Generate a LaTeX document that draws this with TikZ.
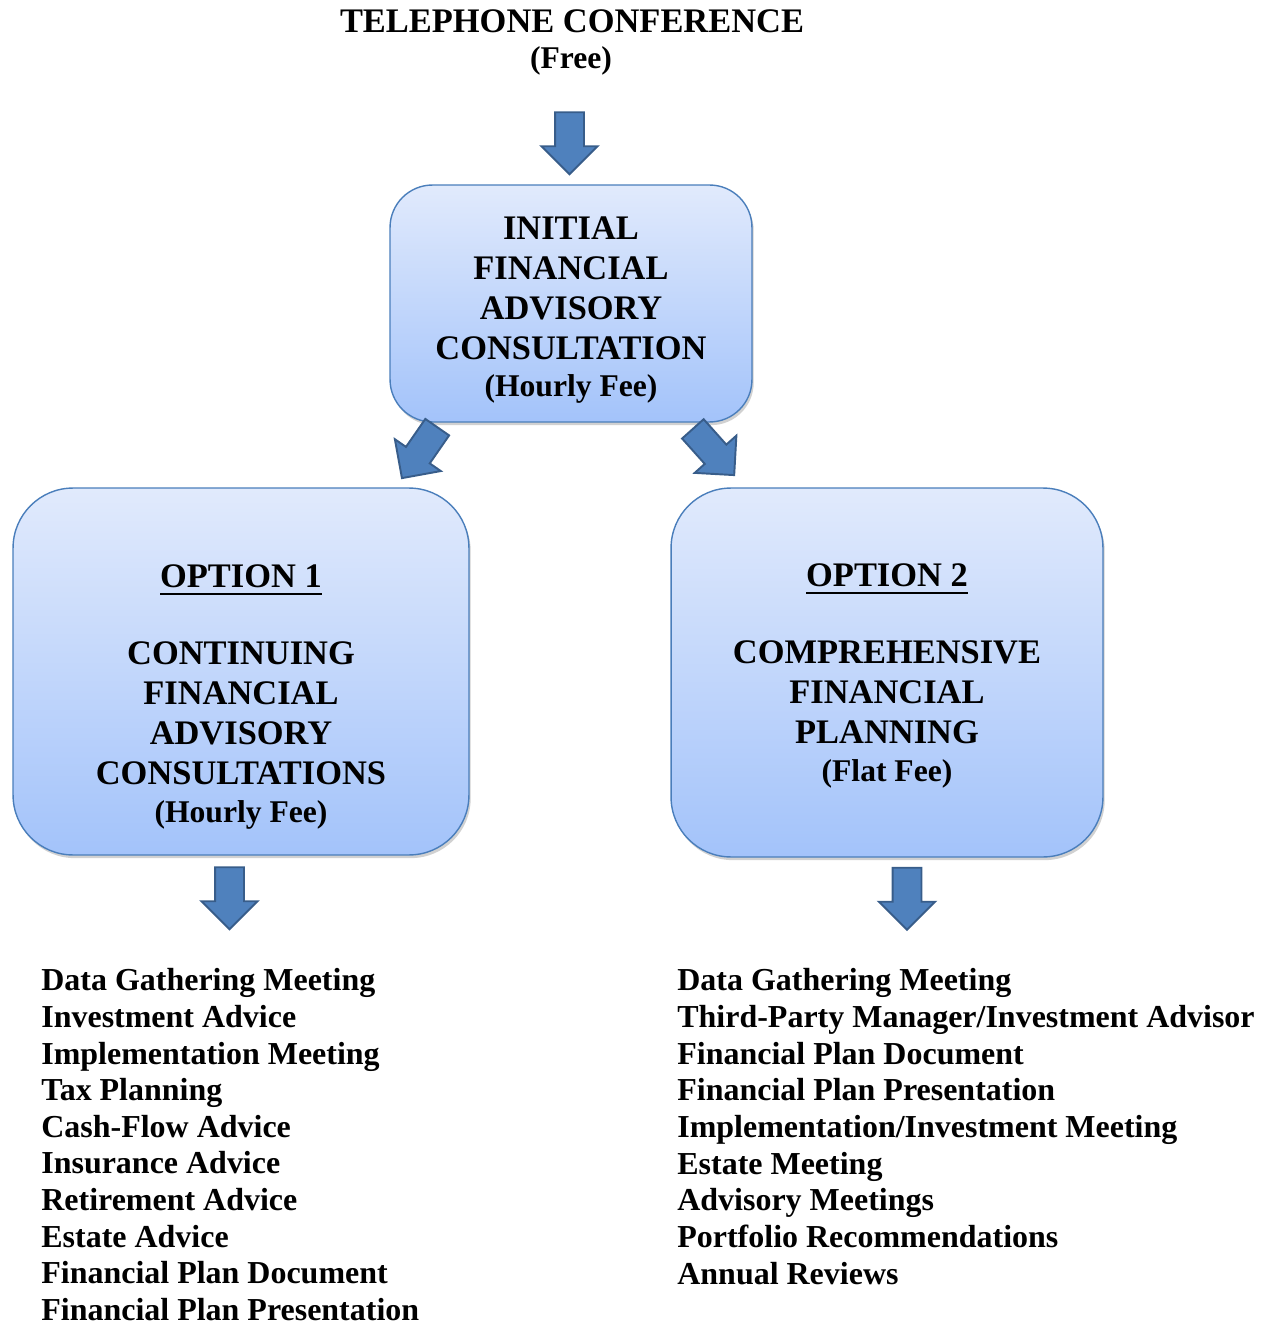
\documentclass[tikz,border=0pt]{standalone}
\usepackage{fontspec}
\setmainfont{Liberation Serif}
\usetikzlibrary{shapes.arrows,shadows}
\definecolor{boxtop}{RGB}{225,234,252}
\definecolor{boxbot}{RGB}{163,195,250}
\definecolor{boxline}{RGB}{74,126,187}
\definecolor{arrfill}{RGB}{79,129,189}
\definecolor{arrline}{RGB}{56,93,138}
\newcommand\optul[1]{\setbox0\hbox{#1}\rlap{\rule[-4.2pt]{\wd0}{1.1pt}}\box0}

\begin{document}
\begin{tikzpicture}[x=0.02cm,y=-0.02cm]
\tikzstyle{box}=[draw=boxline,line width=0.8pt,top color=boxtop,bottom color=boxbot,
  drop shadow={shadow xshift=1pt,shadow yshift=-1.8pt,opacity=0.3,fill=black!60}];
\tikzstyle{big}=[inner sep=0pt,align=center,anchor=base,font=\bfseries\fontsize{19.6}{22.8}\selectfont];
\tikzstyle{lst}=[inner sep=0pt,align=left,anchor=base west,font=\bfseries\fontsize{18.2}{20.85}\selectfont];
\tikzstyle{blk}=[single arrow,draw=arrline,fill=arrfill,line width=1.1pt,minimum height=1.24cm,
  minimum width=1.1cm,single arrow head extend=0.27cm,inner xsep=0pt,inner ysep=0.27cm];
\useasboundingbox (0,0) rectangle (1270,1327);
% title
\node [big] (t1) at (572,33) {TELEPHONE CONFERENCE};
\node [big,font=\bfseries\fontsize{18}{20}\selectfont] (t2) at (571,69) {(Free)};
\node [blk,rotate=-90] (a1) at (569.5,136) {};
% initial consultation
\node [box,rounded corners=0.85cm,minimum width=7.24cm,minimum height=4.74cm] (b1) at (571,303.5) {};
\node [big] (l1) at (571,397) {INITIAL\\FINANCIAL\\ADVISORY\\CONSULTATION\\[-1.5pt]
  {\fontsize{18}{20}\selectfont (Hourly Fee)}};
\node [blk,rotate=-124.7] (a2) at (423.7,446.7) {};
\node [blk,rotate=-48.2] (a3) at (708.7,446.6) {};
% option 1
\node [box,rounded corners=1.2cm,minimum width=9.12cm,minimum height=7.34cm] (b2) at (241,671.5) {};
\node [big] (l2) at (241,822) {\optul{OPTION 1}\\[21pt]CONTINUING\\FINANCIAL\\ADVISORY\\CONSULTATIONS\\[-1.5pt]
  {\fontsize{18}{20}\selectfont (Hourly Fee)}};
% option 2
\node [box,rounded corners=1.2cm,minimum width=8.64cm,minimum height=7.38cm] (b3) at (887,672.5) {};
\node [big] (l3) at (887,781) {\optul{OPTION 2}\\[21pt]COMPREHENSIVE\\FINANCIAL\\PLANNING\\[-1.5pt]
  {\fontsize{18}{20}\selectfont (Flat Fee)}};
\node [blk,rotate=-90] (a4) at (229.5,891) {};
\node [blk,rotate=-90] (a5) at (907,891.5) {};
% services
\node [lst] (s1) at (41,1320.5) {Data Gathering Meeting\\Investment Advice\\Implementation Meeting\\Tax Planning\\Cash-Flow Advice\\Insurance Advice\\Retirement Advice\\Estate Advice\\Financial Plan Document\\Financial Plan Presentation};
\node [lst] (s2) at (677,1284) {Data Gathering Meeting\\Third-Party Manager/Investment Advisor\\Financial Plan Document\\Financial Plan Presentation\\Implementation/Investment Meeting\\Estate Meeting\\Advisory Meetings\\Portfolio Recommendations\\Annual Reviews};
\end{tikzpicture}
\end{document}
